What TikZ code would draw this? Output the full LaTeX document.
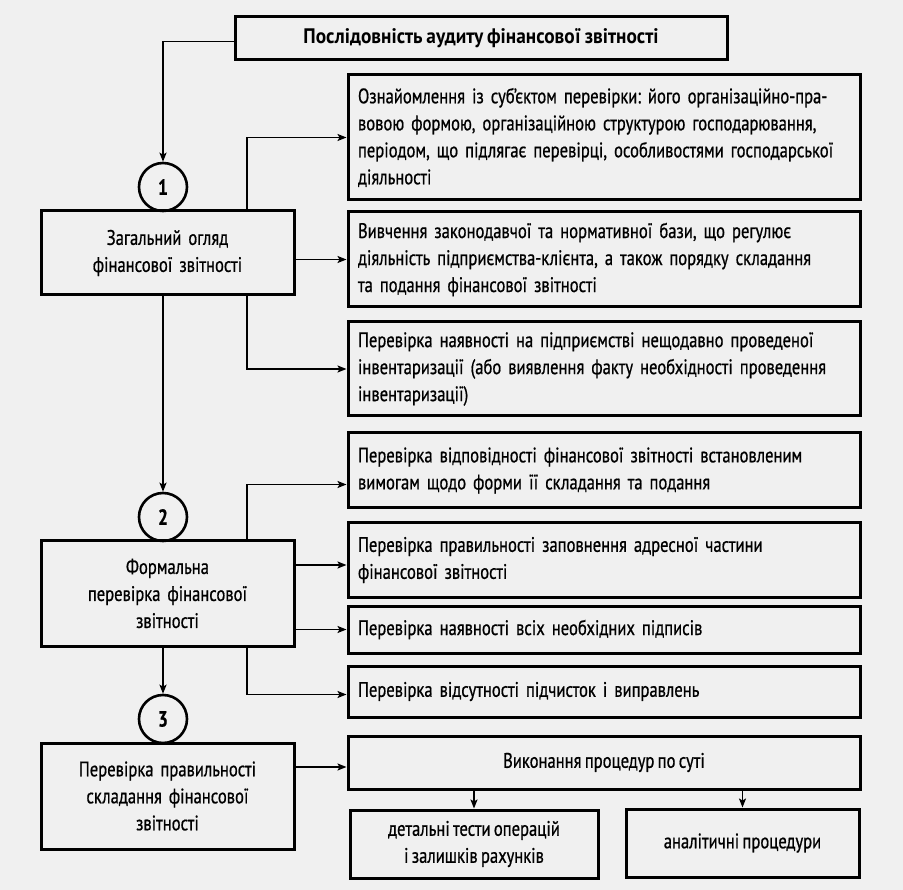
\documentclass[tikz,border=0pt]{standalone}
\usepackage{fontspec}
\setmainfont{PT Sans}[FakeStretch=0.79, WordSpace=0.75, FakeBold=0.7]
\newfontfamily\titlefont{PT Sans}[FakeStretch=0.92, WordSpace=0.8]
\usetikzlibrary{arrows.meta,calc}
\newcommand{\fs}{\fontsize{21}{27}\selectfont}
\newcommand{\myln}[1]{\mbox{#1}}
\begin{document}
\frenchspacing
\begin{tikzpicture}[x=1pt,y=-1pt,
  box/.style={draw, line width=3pt, inner ysep=0pt, inner xsep=10pt, font=\fs},
  rbox/.style={box, minimum width=512pt, text width=492pt, align=left},
  cbox/.style={box, align=center},
  lbox/.style={box, minimum width=253pt, text width=233pt, align=center},
  circ/.style={circle, draw, line width=2.6pt, minimum size=48pt, inner sep=0pt, font=\fontsize{22}{24}\selectfont\bfseries},
  conn/.style={line width=1.8pt},
  arr/.style={conn, -{Stealth[length=9pt,width=7pt,inset=2pt]}}]
\useasboundingbox[fill=white!94!black] (0,0) rectangle (903,890);

\node[cbox, minimum width=492pt, minimum height=43pt, font=\fontsize{21}{27}\titlefont\bfseries] (title) at (481,38.5) {Послідовність аудиту фінансової звітності};

\node[circ] (c1) at (163,187) {1};
\node[lbox, minimum height=84pt] (b1) at (167.5,253) {Загальний огляд\\фінансової звітності};
\node[circ] (c2) at (163,517) {2};
\node[lbox, minimum height=105pt] (b2) at (167.5,593.5) {Формальна\\перевірка фінансової\\звітності};
\node[circ] (c3) at (163,719) {3};
\node[lbox, minimum height=106pt] (b3) at (167.5,796) {Перевірка правильності\\складання фінансової\\звітності};

\node[rbox, minimum height=125pt] (r1) at (604,137.5) {\myln{Ознайомлення із суб’єктом перевірки: його організаційно-пра-}\\\myln{вовою формою, організаційною структурою господарювання,}\\\myln{періодом, що підлягає перевірці, особливостями господарської}\\\myln{діяльності}};
\node[rbox, minimum height=95pt] (r2) at (604,259.5) {\myln{Вивчення законодавчої та нормативної бази, що регулює}\\\myln{діяльність підприємства-клієнта, а також порядку складання}\\\myln{та подання фінансової звітності}};
\node[rbox, minimum height=94pt] (r3) at (604,369) {\myln{Перевірка наявності на підприємстві нещодавно проведеної}\\\myln{інвентаризації (або виявлення факту необхідності проведення}\\\myln{інвентаризації)}};
\node[rbox, minimum height=75pt] (r4) at (604,470.5) {\myln{Перевірка відповідності фінансової звітності встановленим}\\\myln{вимогам щодо форми її складання та подання}};
\node[rbox, minimum height=74pt] (r5) at (604,560) {\myln{Перевірка правильності заповнення адресної частини}\\\myln{фінансової звітності}};
\node[rbox, minimum height=47pt] (r6) at (604,629.5) {\myln{Перевірка наявності всіх необхідних підписів}};
\node[rbox, minimum height=51pt] (r7) at (604,691.5) {\myln{Перевірка відсутності підчисток і виправлень}};
\node[cbox, minimum width=512pt, minimum height=53pt] (r8) at (604,762.5) {Виконання процедур по суті};
\node[cbox, minimum width=248pt, minimum height=68pt] (r9) at (474,844) {детальні тести операцій\\і залишків рахунків};
\node[cbox, minimum width=233pt, minimum height=68pt] (r10) at (742.5,843) {аналітичні процедури};

\coordinate (bx) at (247,0);
\coordinate (t0) at ([yshift=-3pt]title.west);
\coordinate (a4) at ([yshift=-14pt]r4.west);
\coordinate (a5) at ([yshift=-5pt]r5.west);
\coordinate (a7) at ([yshift=-3pt]r7.west);
\coordinate (a8) at ([yshift=-4.5pt]r8.west);

\draw[arr] (t0) -| (c1.north);
\draw[arr] (b1.north -| bx) |- (r1.west);
\draw[arr] (b1.east |- r2.west) -- (r2.west);
\draw[arr] (b1.south -| bx) |- (r3.west);
\draw[arr] (b1.south -| c2.north) -- (c2.north);
\draw[arr] (b2.north -| bx) |- (a4);
\draw[arr] (b2.east |- a5) -- (a5);
\draw[arr] (b2.east |- r6.west) -- (r6.west);
\draw[arr] (b2.south -| bx) |- (a7);
\draw[arr] (b2.south -| c3.north) -- (c3.north);
\draw[arr] (b3.east |- a8) -- (a8);
\draw[arr] (r8.south -| r9.north) -- (r9.north);
\draw[arr] (r8.south -| r10.north) -- (r10.north);
\end{tikzpicture}
\end{document}
